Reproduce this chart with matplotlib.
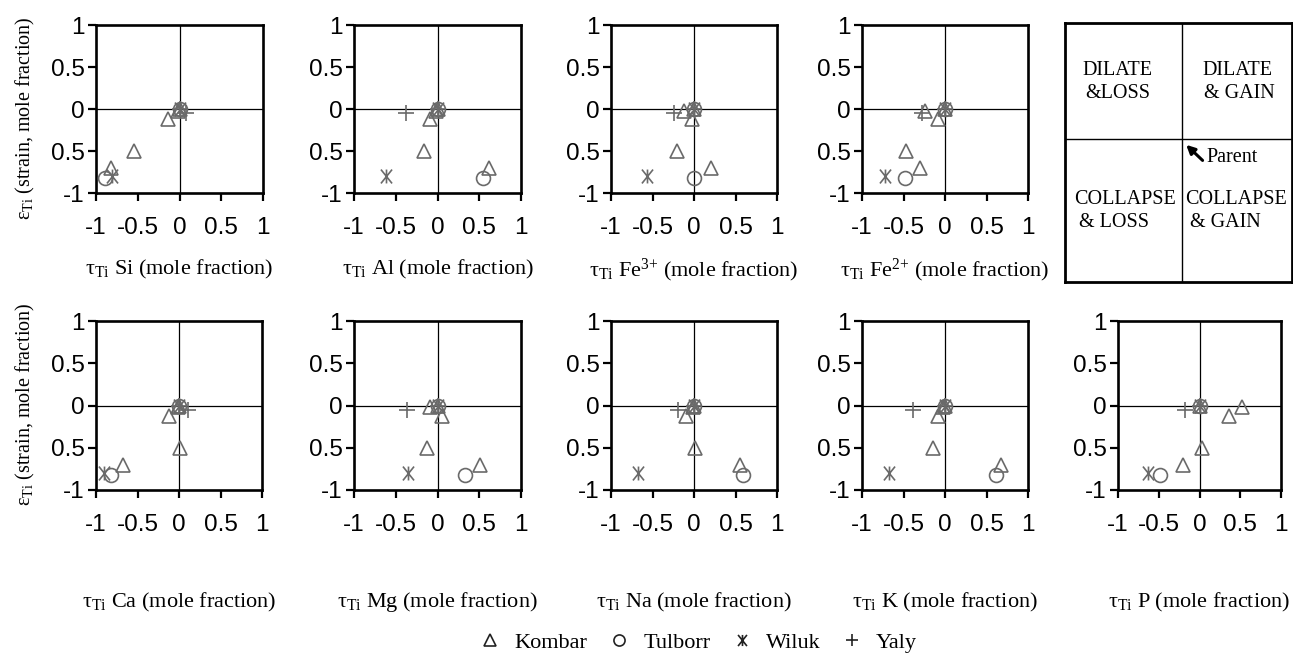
import matplotlib
matplotlib.use("Agg")
import matplotlib.pyplot as plt
from matplotlib.lines import Line2D
from matplotlib.path import Path

plt.rcParams['mathtext.fontset'] = 'custom'
plt.rcParams['mathtext.rm'] = 'Liberation Serif'
plt.rcParams['mathtext.it'] = 'Liberation Serif:italic'

# elements (one panel each) and their axis label text
elements = ['Si', 'Al', 'Fe3+', 'Fe2+', 'Ca', 'Mg', 'Na', 'K', 'P']
element_labels = ['Si', 'Al', 'Fe$^{3{+}}$', 'Fe$^{2{+}}$', 'Ca', 'Mg', 'Na', 'K', 'P']

# strain (same for every element)
kombar_strain = [0, -0.02, -0.12, -0.5, -0.7]
tulborr_strain = [0, -0.82]
wiluk_strain = [0, -0.8]
yaly_strain = [0, -0.05]

# tau values, one row per element (same order as elements)
kombar_tau = [
    [0, -0.02, -0.14, -0.54, -0.82],
    [0, -0.02, -0.085, -0.165, 0.62],
    [0, -0.12, -0.02, -0.21, 0.2],
    [0, -0.24, -0.09, -0.47, -0.3],
    [0, -0.01, -0.12, 0.01, -0.68],
    [0, -0.09, 0.05, -0.13, 0.51],
    [0, -0.01, -0.1, 0.01, 0.55],
    [0, -0.03, -0.09, -0.145, 0.67],
    [0, 0.52, 0.36, 0.03, -0.2],
]
tulborr_tau = [[0, -0.89], [0, 0.55], [0, 0.0], [0, -0.48], [0, -0.82],
               [0, 0.33], [0, 0.59], [0, 0.61], [0, -0.49]]
wiluk_tau = [[0, -0.81], [0, -0.62], [0, -0.57], [0, -0.72], [0, -0.9],
             [0, -0.35], [0, -0.67], [0, -0.67], [0, -0.63]]
yaly_tau = [[0, 0.08], [0, -0.38], [0, -0.24], [0, -0.28], [0, 0.11],
            [0, -0.37], [0, -0.19], [0, -0.38], [0, -0.18]]

ticks = [-1, -0.5, 0, 0.5, 1]
xtick_labels = ['-1', '-0.5', '0', '0.5', '1']
ytick_labels = ['-1', '0.5', '0', '0.5', '1']

site_names = ['Kombar', 'Tulborr', 'Wiluk', 'Yaly']

# "X with a vertical bar" marker for Wiluk
wiluk_marker = Path(
    [(-0.8, -1), (0.8, 1), (-0.8, 1), (0.8, -1), (0, -1), (0, 1)],
    [Path.MOVETO, Path.LINETO, Path.MOVETO, Path.LINETO, Path.MOVETO, Path.LINETO])

grey = '#6a6a6a'
styles = [
    dict(marker='^', ms=10),
    dict(marker='o', ms=10),
    dict(marker=wiluk_marker, ms=10),
    dict(marker='+', ms=11),
]

W, H = 1293, 655
fig = plt.figure(figsize=(W / 100, H / 100), dpi=100)


def px_axes(left, top, right, bottom):
    return fig.add_axes([left / W, 1 - bottom / H, (right - left) / W, (bottom - top) / H])


# pixel boxes of the nine panels
panel_boxes = [
    (96, 25, 263, 193), (354, 25, 521, 193), (611, 25, 777, 193), (862, 25, 1028, 193),
    (96, 321, 262, 490), (354, 321, 521, 490), (611, 321, 777, 490), (862, 321, 1028, 490),
    (1118, 321, 1281, 490),
]

for i, el in enumerate(elements):
    ax = px_axes(*panel_boxes[i])
    ax.axhline(0, color='black', lw=0.9, zorder=1)
    ax.axvline(0, color='black', lw=0.9, zorder=1)

    series = [(kombar_tau[i], kombar_strain), (tulborr_tau[i], tulborr_strain),
              (wiluk_tau[i], wiluk_strain), (yaly_tau[i], yaly_strain)]
    for (xs, ys), st in zip(series, styles):
        ax.plot(xs, ys, ls='none', marker=st['marker'], ms=st['ms'],
                mfc='none', mec=grey, mew=1.2, zorder=3, clip_on=False)

    ax.set_xlim(-1, 1)
    ax.set_ylim(-1, 1)
    ax.set_xticks(ticks)
    ax.set_yticks(ticks)
    ax.set_xticklabels(xtick_labels, family='Liberation Sans', fontsize=17.5)
    ax.set_yticklabels(ytick_labels, family='Liberation Sans', fontsize=17.5)
    ax.tick_params(direction='out', length=6, width=1.6, top=False, right=False)
    ax.tick_params(axis='x', pad=11)
    ax.tick_params(axis='y', pad=2)
    for sp in ax.spines.values():
        sp.set_linewidth(1.9)

    ax.set_xlabel('τ$_{\\mathrm{Ti}}$ ' + element_labels[i] + ' (mole fraction)',
                  family='Liberation Serif', fontsize=16, va='center')
    if i < 4:
        ax.xaxis.set_label_coords(0.5, -0.458)
    else:
        ax.xaxis.set_label_coords(0.5, -0.663)
    if i in (0, 4):
        ax.set_ylabel('ε$_{\\mathrm{Ti}}$ (strain, mole fraction)',
                      family='Liberation Serif', fontsize=14.5, va='center')
        ax.yaxis.set_label_coords(-0.425, 0.446 if i == 0 else 0.51)

# explanation box
bx = px_axes(1065, 23, 1292, 282)
bx.set_xlim(0, 1)
bx.set_ylim(0, 1)
bx.set_xticks([])
bx.set_yticks([])
for sp in bx.spines.values():
    sp.set_linewidth(2.0)
bx.axvline(0.515, color='black', lw=1.0)
bx.axhline(0.552, color='black', lw=1.0)
tkw = dict(family='Liberation Serif', fontsize=14.5, va='center', linespacing=1.25)
bx.text(0.233, 0.772, 'DILATE\n&LOSS', ha='center', multialignment='center', **tkw)
bx.text(0.758, 0.772, 'DILATE\n & GAIN', ha='center', multialignment='center', **tkw)
bx.text(0.04, 0.274, 'COLLAPSE\n & LOSS', ha='left', multialignment='left', **tkw)
bx.text(0.527, 0.274, 'COLLAPSE\n & GAIN', ha='left', multialignment='left', **tkw)
bx.annotate('', xy=(0.525, 0.537), xytext=(0.615, 0.462),
            arrowprops=dict(arrowstyle='-|>,head_length=0.5,head_width=0.25',
                            color='black', lw=2.2))
bx.text(0.625, 0.479, 'Parent', family='Liberation Serif', fontsize=14.5, ha='left', va='center')

# legend
handles = [Line2D([], [], ls='none', marker=st['marker'], ms=st['ms'] - 2,
                  mfc='none', mec='#222222', mew=1.2) for st in styles]
fig.legend(handles, site_names, loc='center', bbox_to_anchor=(0.54, 1 - 643 / H),
           ncol=4, frameon=False, handlelength=1.0, handletextpad=0.6, columnspacing=0.9,
           prop=dict(family='Liberation Serif', size=16))

fig.savefig('out.png', dpi=100)
